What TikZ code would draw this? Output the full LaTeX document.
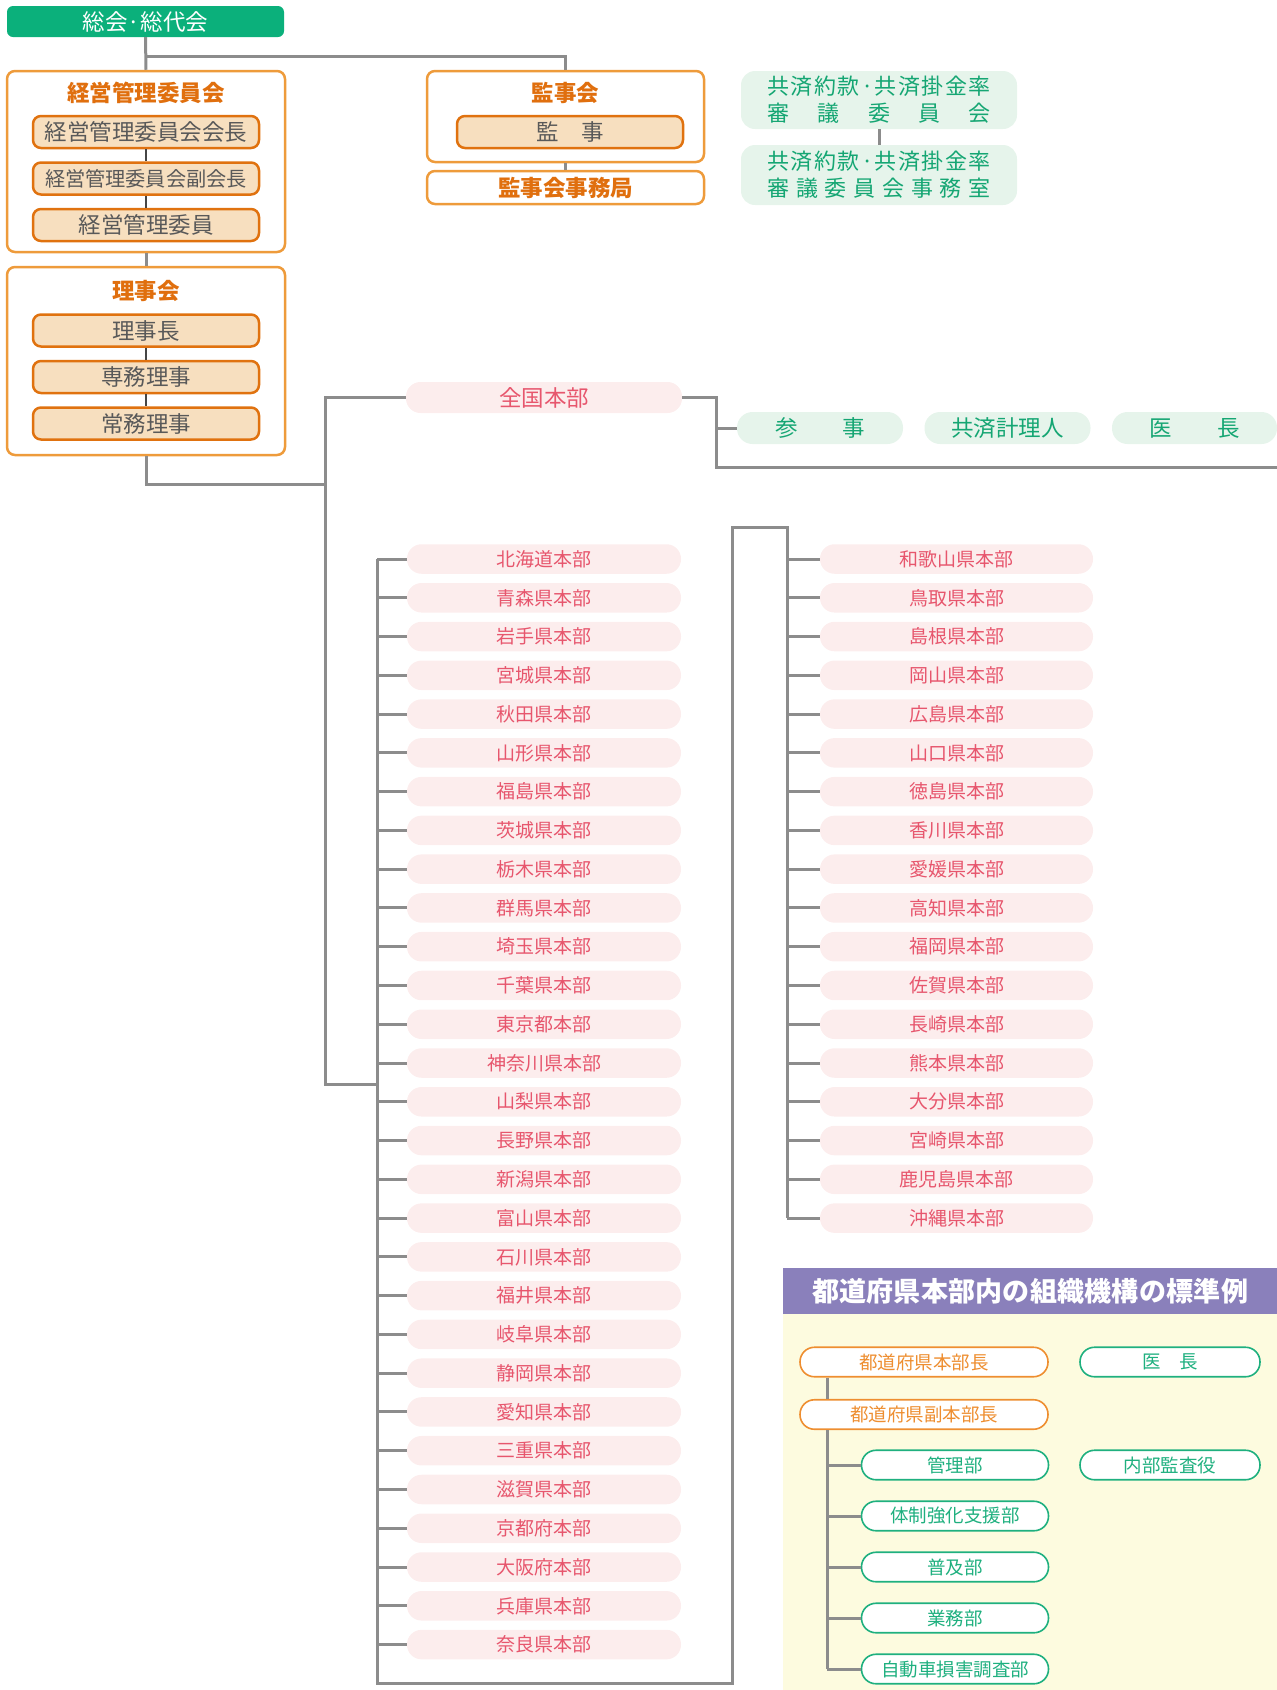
\documentclass[tikz,border=0pt]{standalone}
\usepackage{fontspec}
\setmainfont{Noto Sans CJK JP}
\usetikzlibrary{positioning,calc}

\definecolor{soukaigreen}{RGB}{11,176,123}
\definecolor{frameorange}{RGB}{238,155,59}
\definecolor{postorange}{RGB}{224,114,15}
\definecolor{postfill}{RGB}{247,223,191}
\definecolor{titleorange}{RGB}{224,111,14}
\definecolor{posttext}{RGB}{89,89,89}
\definecolor{linegray}{RGB}{140,140,140}
\definecolor{thingray}{RGB}{70,70,70}
\definecolor{preffill}{RGB}{252,237,237}
\definecolor{preftext}{RGB}{231,86,109}
\definecolor{mintfill}{RGB}{230,244,235}
\definecolor{minttext}{RGB}{21,166,115}
\definecolor{headpurple}{RGB}{138,128,187}
\definecolor{panelyellow}{RGB}{253,251,223}
\definecolor{unitorange}{RGB}{238,142,48}
\definecolor{unitgreen}{RGB}{31,176,127}

\newcommand\fsT{\fontsize{22.5}{26}\selectfont}
\newcommand\fsP{\fontsize{19}{22}\selectfont}
\newcommand\fsU{\fontsize{18.5}{22}\selectfont}

\makeatletter
\def\trk@#1{\ifx#1\@nil\else#1\hfil\expandafter\trk@\fi}
\newcommand\spreadto[2]{\makebox[#1][s]{\trk@#2\@nil\unskip}}
\makeatother

\tikzset{
  conn/.style={draw=linegray,line width=3pt},
  thinconn/.style={draw=thingray,line width=1.2pt},
  soukaibox/.style={fill=soukaigreen,rounded corners=6pt,inner sep=0pt,minimum width=277pt,minimum height=31pt,text=white,font=\fsT},
  groupbox/.style={draw=frameorange,line width=2.5pt,fill=white,rounded corners=8pt,inner sep=0pt,minimum width=278pt},
  grouptitle/.style={text=titleorange,inner sep=0pt,font=\fsT\bfseries},
  postbox/.style={draw=postorange,line width=2.5pt,fill=postfill,rounded corners=8pt,inner sep=0pt,minimum width=226pt,minimum height=32pt,text=posttext,font=\fsT},
  mintbox/.style={fill=mintfill,text=minttext,rounded corners=14pt,inner sep=0pt,minimum width=276pt,align=center,font=\fontsize{22}{27}\selectfont},
  staffbox/.style={fill=mintfill,text=minttext,rounded corners=15.5pt,inner sep=0pt,minimum width=166pt,minimum height=32pt,font=\fsT},
  prefbox/.style={fill=preffill,text=preftext,rounded corners=14.5pt,inner sep=0pt,minimum width=274pt,minimum height=29.5pt,font=\fsP},
  unitbox/.style={draw=unitgreen,line width=1.6pt,fill=white,text=unitgreen,rounded corners=14.5pt,inner sep=0pt,minimum width=187pt,minimum height=29.5pt,font=\fsU},
  chiefbox/.style={unitbox,draw=unitorange,text=unitorange,minimum width=248pt},
}

\begin{document}
\begin{tikzpicture}[x=1pt,y=-1pt]
\useasboundingbox (0,0) rectangle (1277,1690);

% general assembly and boards
\node[soukaibox] (soukai) at (145.5,21.5) {総会·総代会};

\node[groupbox,minimum height=181pt] (keiei) at (146,161.5) {};
\node[grouptitle] at (146,93) {経営管理委員会};
\node[postbox] (k1) at (146,132) {経営管理委員会会長};
\node[postbox,below=12pt of k1,font=\fontsize{20.2}{24}\selectfont] (k2) {経営管理委員会副会長};
\node[postbox,below=12pt of k2] (k3) {経営管理委員};

\node[groupbox,minimum height=188pt] (riji) at (146,361) {};
\node[grouptitle] at (146,291) {理事会};
\node[postbox] (r1) at (146,330.5) {理事長};
\node[postbox,below=12pt of r1] (r2) {専務理事};
\node[postbox,below=12pt of r2] (r3) {常務理事};

\node[groupbox,minimum width=277pt,minimum height=91pt] (kanjikai) at (565.5,116.5) {};
\node[grouptitle] at (565.5,93) {監事会};
\node[postbox] (kanji) at (570,132) {監　事};
\node[groupbox,minimum width=277pt,minimum height=33pt,text=titleorange,font=\fsT\bfseries] (kjimu) at (565.5,187.5) {監事会事務局};

\node[mintbox,minimum height=58pt] (council) at (879,100) {\spreadto{223pt}{共済約款·共済掛金率}\\\spreadto{223pt}{審議委員会}};
\node[mintbox,minimum height=60pt] (cjimu) at (879,175) {\spreadto{223pt}{共済約款·共済掛金率}\\\spreadto{223pt}{審議委員会事務室}};

\coordinate (split) at (146,56);
\draw[conn] (soukai.south) -- (keiei.north);
\draw[conn] (split) -| (kanjikai.north);
\draw[thinconn] (k1) -- (k2);
\draw[thinconn] (k2) -- (k3);
\draw[thinconn] (r1) -- (r2);
\draw[thinconn] (r2) -- (r3);
\draw[conn] (keiei.south) -- (riji.north);
\draw[conn] (kanjikai.south) -- (kjimu.north);
\draw[conn] (council.south) -- (cjimu.north);

% head office
\node[prefbox,minimum width=276pt,minimum height=31pt,font=\fsT] (zenkoku) at (544,397.5) {全国本部};
\node[staffbox] (sanji) at (820,428) {参　　事};
\node[staffbox] (keiri) at (1007.5,428) {共済計理人};
\node[staffbox,minimum width=165pt] (ichou) at (1194.5,428) {医　　長};

\coordinate (lbus) at (377,1683);
\coordinate (zbus) at (325,1084);
\coordinate (rjog) at (716,467);
\coordinate (offpage) at (1277,467);
\coordinate (rturn) at (732,527);
\coordinate (rbus) at (787,527);

\draw[conn] (riji.south) -- ++(0,28) -| (zbus);
\draw[conn] (zenkoku.west) -| (zbus) -- (zbus -| lbus);
\draw[conn] (zenkoku.east) -| (rjog) -- (offpage);
\draw[conn] (sanji.west) -- (sanji.west -| rjog);

% prefectural offices
\foreach \name [count=\i from 0] in {北海道本部,青森県本部,岩手県本部,宮城県本部,秋田県本部,山形県本部,福島県本部,茨城県本部,栃木県本部,群馬県本部,埼玉県本部,千葉県本部,東京都本部,神奈川県本部,山梨県本部,長野県本部,新潟県本部,富山県本部,石川県本部,福井県本部,岐阜県本部,静岡県本部,愛知県本部,三重県本部,滋賀県本部,京都府本部,大阪府本部,兵庫県本部,奈良県本部} {
  \node[prefbox] (L\i) at (544,{559+38.77*\i}) {\name};
  \draw[conn] (L\i.west) -- (L\i.west -| lbus);
}
\foreach \name [count=\i from 0] in {和歌山県本部,鳥取県本部,島根県本部,岡山県本部,広島県本部,山口県本部,徳島県本部,香川県本部,愛媛県本部,高知県本部,福岡県本部,佐賀県本部,長崎県本部,熊本県本部,大分県本部,宮崎県本部,鹿児島県本部,沖縄県本部} {
  \node[prefbox,minimum width=273pt] (R\i) at (956.5,{559+38.77*\i}) {\name};
  \draw[conn] (R\i.west) -- (R\i.west -| rbus);
}
\draw[conn] (L0.west -| lbus) -- (lbus) -| (rturn) -- (rbus) -- (R17.west -| rbus);

% standard structure inside a prefectural office
\node[fill=headpurple,inner sep=0pt,minimum width=494pt,minimum height=46pt,text=white,font=\fontsize{27}{30}\selectfont\bfseries] (pheader) at (1030,1291) {\spreadto{436pt}{都道府県本部内の組織機構の標準例}};
\node[fill=panelyellow,inner sep=0pt,minimum width=494pt,minimum height=376pt,anchor=north] (panel) at (pheader.south) {};

\node[chiefbox] (hq) at (924,1362) {都道府県本部長};
\node[chiefbox] (dep) at (924,1414.5) {都道府県副本部長};
\node[unitbox,minimum width=180pt] (doc) at (1170,1362) {医　長};
\node[unitbox,minimum width=180pt] (audit) at (1170,1465) {内部監査役};

\coordinate (pbus) at (827,1669);
\foreach \name [count=\i from 0] in {管理部,体制強化支援部,普及部,業務部,自動車損害調査部} {
  \node[unitbox] (U\i) at (955,{1465+51*\i}) {\name};
  \draw[conn] (U\i.west) -- (U\i.west -| pbus);
}
\draw[conn] (hq.south -| pbus) -- (dep.north -| pbus);
\draw[conn] (dep.south -| pbus) -- (U4.west -| pbus);
\end{tikzpicture}
\end{document}
